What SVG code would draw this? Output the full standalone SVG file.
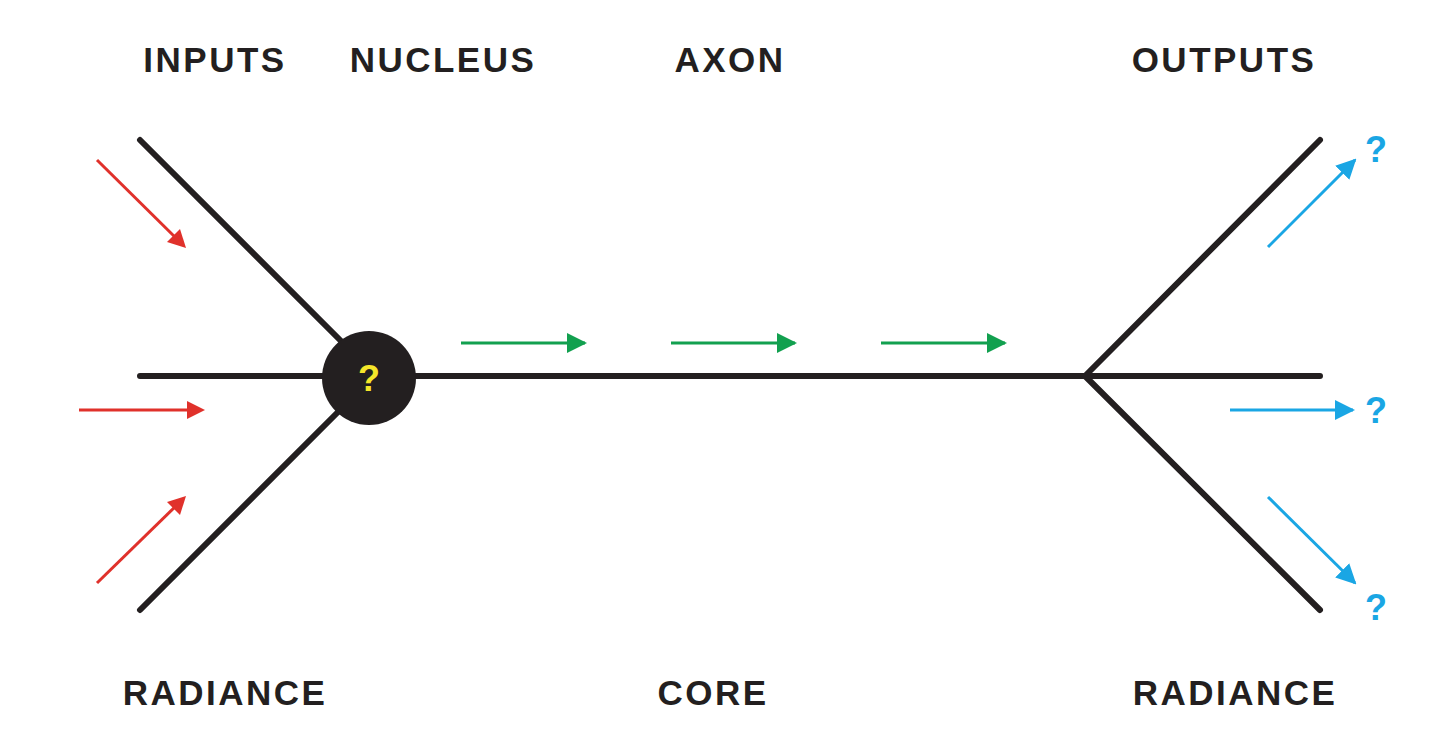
<svg xmlns="http://www.w3.org/2000/svg" width="1456" height="746" viewBox="0 0 1456 746">
<style>
.t{font-family:"Liberation Sans",Arial,sans-serif;font-weight:bold;font-size:35px;letter-spacing:2.5px;fill:#231f20;text-anchor:middle}
.q{font-family:"Liberation Sans",Arial,sans-serif;font-weight:bold;font-size:36px;text-anchor:middle}
.k{stroke:#231f20;stroke-width:6;stroke-linecap:round;fill:none}
.r{stroke:#e0312b;stroke-width:3}
.g{stroke:#12a04f;stroke-width:3;marker-end:url(#mg)}
.b{stroke:#1aa6e4;stroke-width:3;marker-end:url(#mb)}
</style>
<defs>
<marker id="mg" viewBox="0 0 10 10" refX="9" refY="5" markerWidth="20" markerHeight="20" orient="auto" markerUnits="userSpaceOnUse"><path d="M0,0 L10,5 L0,10z" fill="#12a04f"/></marker>
<marker id="mb" viewBox="0 0 10 10" refX="9" refY="5" markerWidth="20" markerHeight="20" orient="auto" markerUnits="userSpaceOnUse"><path d="M0,0 L10,5 L0,10z" fill="#1aa6e4"/></marker>
</defs>
<rect width="1456" height="746" fill="#fff"/>
<g id="connectors">
<path class="k" d="M140,140 L345,345 M140,376 L1320,376 M140,610 L345,405 M1085,376 L1320,140 M1085,376 L1320,610"/>
<line class="r" x1="97" y1="160" x2="180" y2="242"/>
<path d="M186,248 L167,242 L180,229z" fill="#e0312b"/>
<line class="r" x1="79" y1="410" x2="196" y2="410"/>
<path d="M205,410 L187,401 L187,419z" fill="#e0312b"/>
<line class="r" x1="97" y1="583" x2="180" y2="502"/>
<path d="M186,496 L180,515 L167,502z" fill="#e0312b"/>
<line class="g" x1="461" y1="343" x2="585" y2="343"/>
<line class="g" x1="671" y1="343" x2="795" y2="343"/>
<line class="g" x1="881" y1="343" x2="1005" y2="343"/>
<line class="b" x1="1268" y1="247" x2="1355" y2="160"/>
<line class="b" x1="1230" y1="410" x2="1353" y2="410"/>
<line class="b" x1="1268" y1="497" x2="1355" y2="583"/>
</g>
<g id="nucleus">
<circle cx="369" cy="378" r="47" fill="#231f20"/>
<text class="q" x="369" y="391" fill="#f5e62a">?</text>
</g>
<g id="outs">
<text class="q" x="1376" y="162" fill="#1aa6e4">?</text>
<text class="q" x="1376" y="423" fill="#1aa6e4">?</text>
<text class="q" x="1376" y="620" fill="#1aa6e4">?</text>
</g>
<g id="labels">
<text class="t" x="215" y="72">INPUTS</text>
<text class="t" x="443" y="72">NUCLEUS</text>
<text class="t" x="730" y="72">AXON</text>
<text class="t" x="1224" y="72">OUTPUTS</text>
<text class="t" x="225" y="705">RADIANCE</text>
<text class="t" x="713" y="705">CORE</text>
<text class="t" x="1235" y="705">RADIANCE</text>
</g>
</svg>
